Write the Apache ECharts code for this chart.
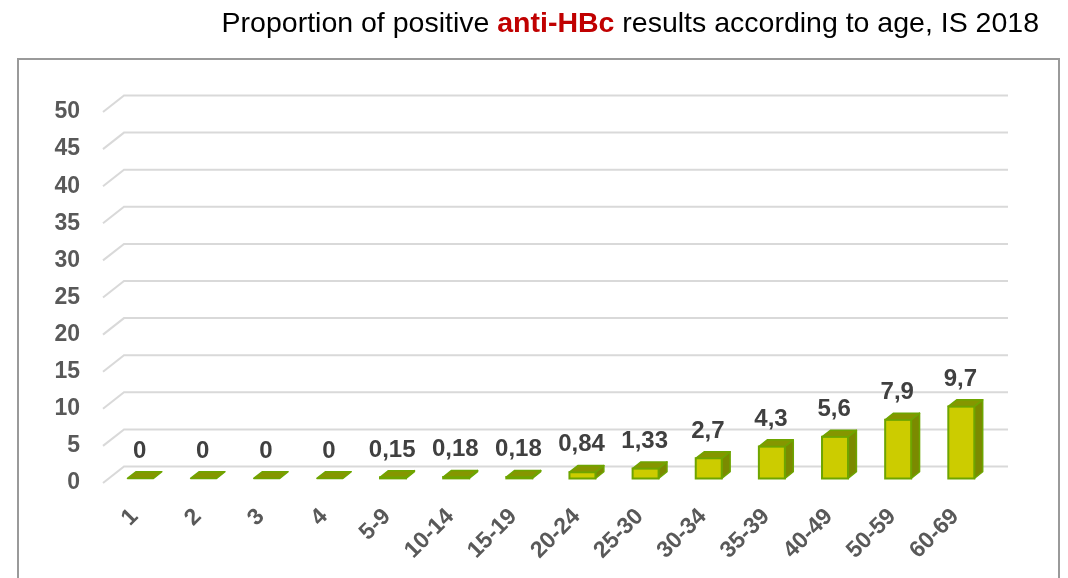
<!DOCTYPE html>
<html>
<head>
<meta charset="utf-8">
<script src="https://cdn.jsdelivr.net/npm/echarts@6/dist/echarts.min.js"></script>
<style>html,body{margin:0;padding:0;background:#fff}#c{width:1068px;height:578px}</style>
</head>
<body>
<div id="c"></div>
<script>
const categories = ['1','2','3','4','5-9','10-14','15-19','20-24','25-30','30-34','35-39','40-49','50-59','60-69'];
const values = [0,0,0,0,0.15,0.18,0.18,0.84,1.33,2.7,4.3,5.6,7.9,9.7];
const valueLabels = ['0','0','0','0','0,15','0,18','0,18','0,84','1,33','2,7','4,3','5,6','7,9','9,7'];
const yTicks = [0,5,10,15,20,25,30,35,40,45,50];

const WALL_DX = 21, WALL_DY = 16.5;
const FRONT = 0.28, DEPTH = 0.4;
const BAR_W = 26;

const chart = echarts.init(document.getElementById('c'));
chart.setOption({
  animation: false,
  backgroundColor: '#fff',
  title: {
    text: 'Proportion of positive {r|anti-HBc} results according to age, IS 2018',
    right: 24, top: 5,
    textStyle: {
      fontFamily: 'Liberation Sans', fontSize: 28.5, fontWeight: 'normal', color: '#000',
      rich: { r: { fontFamily: 'Liberation Sans', fontSize: 28.5, fontWeight: 'bold', color: '#C00000' } }
    }
  },
  graphic: [{
    type: 'rect', shape: { x: 18, y: 59, width: 1041, height: 560 },
    style: { fill: 'none', stroke: '#9a9a9a', lineWidth: 2 }, z: -10
  }],
  grid: { left: 103, right: 81, top: 112, bottom: 95 },
  xAxis: {
    type: 'category', data: categories,
    axisLine: { show: false }, axisTick: { show: false },
    axisLabel: { rotate: 45, margin: 30, fontSize: 23, fontWeight: 'bold', color: '#595959', fontFamily: 'Liberation Sans', interval: 0 }
  },
  yAxis: {
    type: 'value', min: 0, max: 50, interval: 5,
    axisLine: { show: false }, axisTick: { show: false }, splitLine: { show: false },
    axisLabel: { margin: 23, fontSize: 23, fontWeight: 'bold', color: '#595959', fontFamily: 'Liberation Sans' }
  },
  series: [
    {
      type: 'custom', z: 1, silent: true,
      data: yTicks.map(t => [0, t]),
      encode: { x: 0, y: 1 },
      renderItem: function (params, api) {
        const cs = params.coordSys;
        const y = api.coord([0, api.value(1)])[1];
        return {
          type: 'polyline',
          shape: { points: [[cs.x, y], [cs.x + WALL_DX, y - WALL_DY], [cs.x + cs.width + WALL_DX, y - WALL_DY]] },
          style: { stroke: '#D9D9D9', lineWidth: 2, fill: 'none' }
        };
      }
    },
    {
      type: 'custom', z: 5, silent: true,
      data: values.map((v, i) => [i, v]),
      encode: { x: 0, y: 1 },
      renderItem: function (params, api) {
        const i = api.value(0), v = api.value(1);
        const base = api.coord([i, 0]);
        const top = api.coord([i, v]);
        const fdx = FRONT * WALL_DX, fdy = FRONT * WALL_DY;
        const ddx = DEPTH * WALL_DX, ddy = DEPTH * WALL_DY;
        const xl = base[0] - BAR_W / 2 + fdx, xr = base[0] + BAR_W / 2 + fdx;
        const yb = base[1] - fdy, yt = top[1] - fdy;
        const stroke = '#6EA500';
        const children = [];
        if (yb - yt > 0.5) {
          children.push({ type: 'polygon', shape: { points: [[xr, yt], [xr + ddx, yt - ddy], [xr + ddx, yb - ddy], [xr, yb]] },
            style: { fill: '#7B8A00', stroke: stroke, lineWidth: 1.5, lineJoin: 'round' } });
          children.push({ type: 'rect', shape: { x: xl, y: yt, width: xr - xl, height: yb - yt },
            style: { fill: '#CCCC00', stroke: stroke, lineWidth: 2 } });
        }
        children.push({ type: 'polygon', shape: { points: [[xl, yt], [xr, yt], [xr + ddx, yt - ddy], [xl + ddx, yt - ddy]] },
          style: { fill: '#859600', stroke: stroke, lineWidth: 1.5, lineJoin: 'round' } });
        children.push({ type: 'text', style: { text: valueLabels[params.dataIndex], x: base[0] + 5, y: top[1] - 32,
          align: 'center', verticalAlign: 'middle', fill: '#404040', font: 'bold 24px "Liberation Sans"' } });
        return { type: 'group', children: children };
      }
    }
  ]
});
</script>
</body>
</html>
